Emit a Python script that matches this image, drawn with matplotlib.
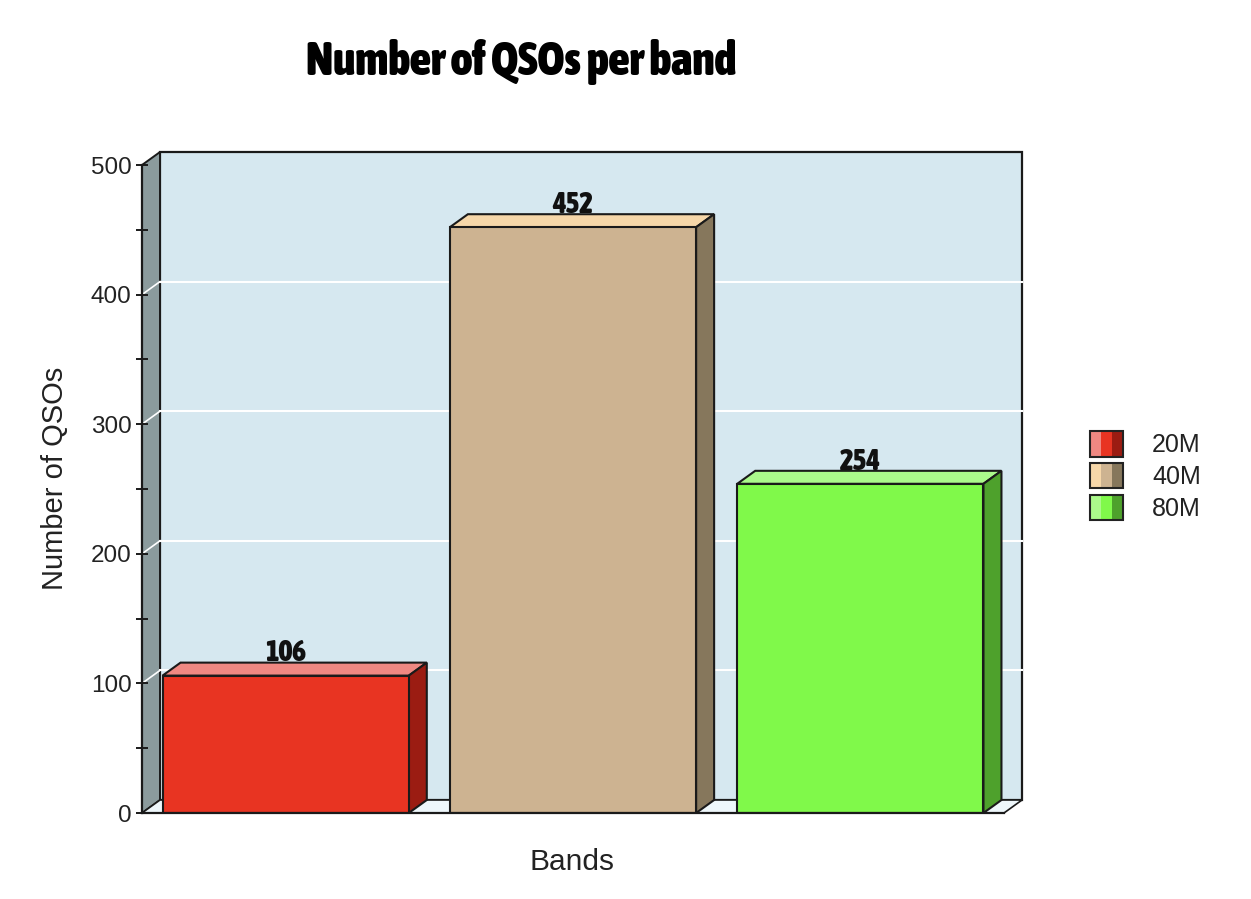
import matplotlib
matplotlib.use("Agg")
import matplotlib.pyplot as plt
from matplotlib import font_manager as fm
from matplotlib.patches import Rectangle, Polygon
from matplotlib.legend_handler import HandlerBase
from matplotlib.ticker import MultipleLocator

# ---- data ----
bands = ["20M", "40M", "80M"]
qsos = [106, 452, 254]
title = "Number of QSOs per band"
xlabel = "Bands"
ylabel = "Number of QSOs"
yticks = [0, 100, 200, 300, 400, 500]

# ---- style ----
front_cols = ["#e83422", "#cdb391", "#80f94a"]
top_cols = ["#ef8882", "#f6d7a9", "#abf98b"]
side_cols = ["#9b1c12", "#86775c", "#4ea12c"]
wall_col = "#d6e8f0"
left_wall_col = "#8b9b9d"
floor_col = "#eef7fb"
edge = "#1a1a1a"

plt.rcParams['font.family'] = ['Liberation Sans', 'DejaVu Sans']

# look for an installed upright condensed bold face (Impact / Arial Narrow look)
narrow_path = None
best = -1
for f in fm.fontManager.ttflist:
    nm = f.name + " " + str(f.fname)
    if "italic" in nm.lower() or "oblique" in nm.lower() or f.style != "normal":
        continue
    is_narrow = ("Narrow" in nm or "Condensed" in nm or
                 f.stretch in ("condensed", "semi-condensed", "extra-condensed"))
    try:
        wt = int(f.weight)
    except (TypeError, ValueError):
        wt = {"bold": 700, "heavy": 800, "black": 900}.get(str(f.weight), 400)
    if not is_narrow or wt < 700 or not f.fname.lower().endswith((".ttf", ".otf")):
        continue
    score = wt + (50 if "Liberation" in nm else 0)
    if score > best:
        best = score
        narrow_path = f.fname
if narrow_path:
    TITLE_FP = fm.FontProperties(fname=narrow_path, size=33)
    VAL_FP = fm.FontProperties(fname=narrow_path, size=21)
else:
    TITLE_FP = fm.FontProperties(family="Liberation Sans", weight="bold", size=25)
    VAL_FP = fm.FontProperties(family="Liberation Sans", weight="bold", size=18)

W, H = 1251, 899
fig = plt.figure(figsize=(W / 100, H / 100), dpi=100)
ax_l, ax_b, ax_w, ax_h = 142 / W, (H - 813) / H, 862 / W, 648 / H
ax = fig.add_axes([ax_l, ax_b, ax_w, ax_h])
ymax = 500
ncat = len(bands)
ax.set_xlim(0, ncat)
ax.set_ylim(0, ymax)

# depth of the pseudo-3D in data units (18 px right, 13 px up)
dx = 18 * ncat / 862
dy = 13 * ymax / 648

# back wall
ax.add_patch(Rectangle((dx, dy), ncat, ymax, facecolor=wall_col, edgecolor=edge,
                       lw=1.6, clip_on=False, zorder=0))
# left wall
ax.add_patch(Polygon([(0, 0), (dx, dy), (dx, ymax + dy), (0, ymax)], closed=True,
                     facecolor=left_wall_col, edgecolor=edge, lw=1.4, clip_on=False, zorder=0.5))
# floor
ax.add_patch(Polygon([(0, 0), (ncat, 0), (ncat + dx, dy), (dx, dy)], closed=True,
                     facecolor=floor_col, edgecolor=edge, lw=1.2, clip_on=False, zorder=0.5))
# gridlines on back wall and left wall
for v in yticks[1:-1]:
    ax.plot([dx, ncat + dx], [v + dy, v + dy], color="white", lw=1.5, zorder=1, clip_on=False)
    ax.plot([0, dx], [v, v + dy], color="white", lw=1.2, zorder=1, clip_on=False)

# bars
xpos = [i + 0.5 for i in range(ncat)]
bw = 0.857
ax.bar(xpos, qsos, width=bw, color=front_cols, edgecolor=edge, lw=1.5, zorder=3)
for x, v, tc, sc in zip(xpos, qsos, top_cols, side_cols):
    x0, x1 = x - bw / 2, x + bw / 2
    ax.add_patch(Polygon([(x0, v), (x1, v), (x1 + dx, v + dy), (x0 + dx, v + dy)],
                         closed=True, facecolor=tc, edgecolor=edge, lw=1.5, zorder=2.9, clip_on=False))
    ax.add_patch(Polygon([(x1, 0), (x1 + dx, dy), (x1 + dx, v + dy), (x1, v)],
                         closed=True, facecolor=sc, edgecolor=edge, lw=1.5, zorder=2.9, clip_on=False))
    ax.text(x, v + dy + 1, str(v), ha="center", va="baseline", fontproperties=VAL_FP,
            color="#111", zorder=5)

# axes styling
for s in ["top", "right", "bottom"]:
    ax.spines[s].set_visible(False)
ax.spines["left"].set_color(edge)
ax.spines["left"].set_linewidth(1.6)
ax.spines["left"].set_zorder(4)
ax.plot([0, ncat], [0, 0], color=edge, lw=1.6, zorder=4, clip_on=False)
ax.patch.set_visible(False)
ax.set_xticks([])
ax.set_yticks(yticks)
ax.yaxis.set_minor_locator(MultipleLocator(50))
ax.tick_params(axis="y", which="both", direction="inout", length=9, width=1.4,
               color=edge, labelsize=17.5, labelcolor="#222", pad=3)

ax.set_ylabel(ylabel, fontsize=21, color="#222", va="center", ha="center")
ax.yaxis.set_label_coords(-0.101, 0.517)
ax.set_xlabel(xlabel, fontsize=21.5, color="#222", va="center", ha="center")
ax.xaxis.set_label_coords(0.499, -0.0756)

fig.text(521 / W, 1 - 75 / H, title, ha="center", va="baseline",
         fontproperties=TITLE_FP, color="black")


# legend with three-stripe keys
class StripeKey:
    def __init__(self, colors):
        self.colors = colors


class StripeHandler(HandlerBase):
    def create_artists(self, legend, orig_handle, xdescent, ydescent, width, height, fontsize, trans):
        arts = []
        w = width / 3
        for i, c in enumerate(orig_handle.colors):
            arts.append(Rectangle((-xdescent + i * w, -ydescent), w, height, facecolor=c,
                                  edgecolor="none", transform=trans))
        arts.append(Rectangle((-xdescent, -ydescent), width, height, fill=False,
                              edgecolor="#222", lw=1.5, transform=trans))
        return arts


keys = [StripeKey((t, f, s)) for t, f, s in zip(top_cols, front_cols, side_cols)]
fig.legend(keys, bands, handler_map={StripeKey: StripeHandler()},
           loc="upper left", bbox_to_anchor=(1090 / W, 1 - 431 / H), frameon=False,
           fontsize=18, handlelength=1.32, handleheight=1.2, handletextpad=1.16,
           labelspacing=0.22, borderpad=0, borderaxespad=0, labelcolor="#222")

fig.savefig("out.png", dpi=100)
